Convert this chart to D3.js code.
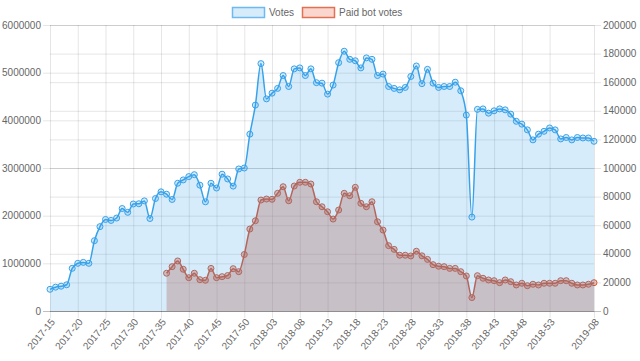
<!DOCTYPE html>
<html>
<head>
<meta charset="utf-8">
<script src="https://cdnjs.cloudflare.com/ajax/libs/d3/7.8.5/d3.min.js"></script>
<style>
  html, body { margin: 0; padding: 0; background: #fff; }
  #chart { width: 640px; height: 361px; }
  text { font-family: "Liberation Sans", Arial, Helvetica, sans-serif; }
</style>
</head>
<body>
<div id="chart"></div>
<script>
// Weekly labels: 2017-15 .. 2017-52, 2018-01 .. 2018-53, 2019-01 .. 2019-08
const weekRanges = [[2017, 15, 52], [2018, 1, 53], [2019, 1, 8]];
const weeks = [];
weekRanges.forEach(([yr, a, b]) => {
  for (let w = a; w <= b; w++) weeks.push(`${yr}-${String(w).padStart(2, "0")}`);
});

// Votes (left axis)
const votes = [
  455000, 500000, 520000, 550000, 895000, 1000000, 1020000, 1000000, 1475000, 1770000,
  1920000, 1900000, 1950000, 2150000, 2070000, 2245000, 2250000, 2310000, 1940000, 2360000,
  2500000, 2450000, 2340000, 2680000, 2750000, 2820000, 2860000, 2640000, 2290000, 2680000,
  2580000, 2870000, 2770000, 2620000, 2980000, 3000000, 3710000, 4320000, 5190000, 4450000,
  4570000, 4670000, 4940000, 4710000, 5080000, 5100000, 4940000, 5080000, 4790000, 4780000,
  4550000, 4740000, 5210000, 5450000, 5280000, 5250000, 5100000, 5310000, 5280000, 4940000,
  4970000, 4710000, 4670000, 4640000, 4690000, 4920000, 5140000, 4770000, 5070000, 4780000,
  4690000, 4710000, 4710000, 4800000, 4620000, 4110000, 1970000, 4230000, 4240000, 4150000,
  4200000, 4240000, 4220000, 4130000, 3980000, 3920000, 3800000, 3590000, 3710000, 3770000,
  3840000, 3800000, 3610000, 3640000, 3590000, 3640000, 3630000, 3630000, 3560000
];

// Paid bot votes (right axis), starts at 2017-36
const botVotes = [
  null, null, null, null, null, null, null, null, null, null,
  null, null, null, null, null, null, null, null, null, null,
  null, 26400, 31000, 35000, 29200, 23300, 26400, 21900, 21500, 29800,
  23300, 24000, 24800, 29600, 27500, 39500, 57300, 63100, 77600, 78300,
  78100, 82300, 86900, 77100, 87400, 90000, 90000, 88800, 76400, 72900,
  69400, 64300, 70600, 82300, 80600, 86500, 75300, 72900, 76400, 62400,
  56600, 45700, 43100, 39000, 39000, 38500, 41800, 38600, 36100, 32400,
  31300, 31000, 29800, 29800, 27500, 24500, 9400, 24700, 22900, 21700,
  21200, 19800, 21700, 20500, 18200, 19400, 17700, 18700, 18200, 19400,
  19400, 19400, 21200, 21200, 19400, 18200, 18200, 18700, 19800
];

const leftTicks = [0, 1000000, 2000000, 3000000, 4000000, 5000000, 6000000];
const rightTicks = [0, 20000, 40000, 60000, 80000, 100000, 120000, 140000, 160000, 180000, 200000];
const seriesNames = ["Votes", "Paid bot votes"];

const W = 640, H = 361;
const margin = { top: 25, right: 46, bottom: 50, left: 50 };
const width = W - margin.left - margin.right;
const height = H - margin.top - margin.bottom;

const blue = "rgb(54,162,235)", blueFill = "rgba(54,162,235,0.2)";
const red = "rgb(212,88,56)", redFill = "rgba(200,88,62,0.33)";
const legendRed = "rgb(226,112,82)", legendRedFill = "rgba(235,120,92,0.3)";
const grid = "rgba(0,0,0,0.1)";

const svg = d3.select("#chart").append("svg")
  .attr("width", W).attr("height", H);
const g = svg.append("g").attr("transform", `translate(${margin.left},${margin.top})`);

const x = d3.scalePoint().domain(weeks).range([0, width]);
const yL = d3.scaleLinear().domain([0, 6000000]).range([height, 0]);
const yR = d3.scaleLinear().domain([0, 200000]).range([height, 0]);

// Horizontal grid (both axes)
g.append("g").selectAll("line").data(leftTicks).join("line")
  .attr("x1", -7).attr("x2", width)
  .attr("y1", d => yL(d) + 0.5).attr("y2", d => yL(d) + 0.5)
  .attr("stroke", d => d === 0 ? "rgba(0,0,0,0.25)" : grid);
g.append("g").selectAll("line").data(rightTicks).join("line")
  .attr("x1", 0).attr("x2", width + 7)
  .attr("y1", d => yR(d) + 0.5).attr("y2", d => yR(d) + 0.5)
  .attr("stroke", d => d === 0 ? "rgba(0,0,0,0.25)" : grid);

// Visible x labels: every 5th and the last one
const shown = weeks.filter((w, i) => (i % 5 === 0 && i + 5 < weeks.length) || i === weeks.length - 1);
g.append("g").selectAll("line").data(shown).join("line")
  .attr("x1", d => x(d) + 0.5).attr("x2", d => x(d) + 0.5)
  .attr("y1", 0).attr("y2", height + 7)
  .attr("stroke", grid);

// Axis labels
g.append("g").selectAll("text").data(leftTicks).join("text")
  .attr("x", -9).attr("y", d => yL(d)).attr("dy", "0.35em")
  .attr("text-anchor", "end").attr("font-size", "10px").attr("fill", "#666")
  .text(d => d);
g.append("g").selectAll("text").data(rightTicks).join("text")
  .attr("x", width + 9).attr("y", d => yR(d)).attr("dy", "0.35em")
  .attr("text-anchor", "start").attr("font-size", "10px").attr("fill", "#666")
  .text(d => d);
g.append("g").selectAll("text").data(shown).join("text")
  .attr("transform", d => `translate(${x(d) + 3},${height + 9}) rotate(-50)`)
  .attr("dy", "0.35em")
  .attr("text-anchor", "end").attr("font-size", "10px").attr("fill", "#666")
  .text(d => d);

const curve = d3.curveMonotoneX;

// Paid bot votes (drawn underneath)
const botData = weeks.map((w, i) => ({ w, v: botVotes[i] })).filter(d => d.v != null);
g.append("path").datum(botData)
  .attr("d", d3.area().x(d => x(d.w)).y0(height).y1(d => yR(d.v)).curve(curve))
  .attr("fill", redFill);
g.append("path").datum(botData)
  .attr("d", d3.line().x(d => x(d.w)).y(d => yR(d.v)).curve(curve))
  .attr("fill", "none").attr("stroke", red).attr("stroke-width", 1.5);
g.append("g").selectAll("circle").data(botData).join("circle")
  .attr("cx", d => x(d.w)).attr("cy", d => yR(d.v)).attr("r", 3)
  .attr("fill", redFill).attr("stroke", red).attr("stroke-width", 1);

// Votes
const voteData = weeks.map((w, i) => ({ w, v: votes[i] }));
g.append("path").datum(voteData)
  .attr("d", d3.area().x(d => x(d.w)).y0(height).y1(d => yL(d.v)).curve(curve))
  .attr("fill", blueFill);
g.append("path").datum(voteData)
  .attr("d", d3.line().x(d => x(d.w)).y(d => yL(d.v)).curve(curve))
  .attr("fill", "none").attr("stroke", blue).attr("stroke-width", 1.5);
g.append("g").selectAll("circle").data(voteData).join("circle")
  .attr("cx", d => x(d.w)).attr("cy", d => yL(d.v)).attr("r", 3)
  .attr("fill", blueFill).attr("stroke", blue).attr("stroke-width", 1);

// Legend
const legend = svg.append("g");
const legendItems = [
  { name: seriesNames[0], x: 232, fill: blueFill, stroke: "rgb(110,185,240)" },
  { name: seriesNames[1], x: 302, fill: legendRedFill, stroke: legendRed }
];
legendItems.forEach(it => {
  legend.append("rect")
    .attr("x", it.x + 0.5).attr("y", 7.5).attr("width", 32).attr("height", 10)
    .attr("fill", it.fill).attr("stroke", it.stroke).attr("stroke-width", 1.5);
  legend.append("text")
    .attr("x", it.x + 37).attr("y", 12.5).attr("dy", "0.35em")
    .attr("font-size", "10px").attr("fill", "#666")
    .text(it.name);
});
</script>
</body>
</html>
